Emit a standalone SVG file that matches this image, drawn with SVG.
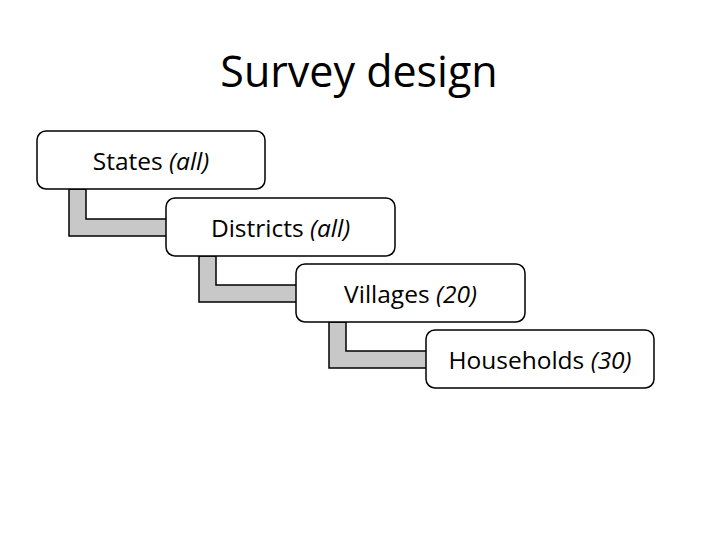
<svg xmlns="http://www.w3.org/2000/svg" width="720" height="540" viewBox="0 0 720 540">
<style>
.box{fill:#fff;stroke:#000;stroke-width:1.5}
.conn{fill:#c8c8c8;stroke:#000;stroke-width:1.5;stroke-linejoin:miter}
.lbl{font-family:"Open Sans","Liberation Sans",sans-serif;font-size:24.5px;fill:#000;text-anchor:middle}
.title{font-family:"Open Sans","Liberation Sans",sans-serif;font-size:43px;fill:#000;text-anchor:middle}
</style>
<rect width="720" height="540" fill="#fff"/>
<text class="title" x="359" y="87">Survey design</text>
<g id="connectors">
<path class="conn" d="M69,189 L86,189 L86,219 L167,219 L167,236 L69,236 Z"/>
<path class="conn" d="M199,256 L216,256 L216,285 L297,285 L297,302 L199,302 Z"/>
<path class="conn" d="M329,322 L346,322 L346,351 L427,351 L427,368 L329,368 Z"/>
</g>
<g id="states">
<rect class="box" x="37" y="131" width="228" height="58" rx="9"/>
<text class="lbl" x="151" y="170">States <tspan font-style="italic">(all)</tspan></text>
</g>
<g id="districts">
<rect class="box" x="166" y="198" width="229" height="58" rx="9"/>
<text class="lbl" x="280.5" y="237">Districts <tspan font-style="italic">(all)</tspan></text>
</g>
<g id="villages">
<rect class="box" x="296" y="264" width="229" height="58" rx="9"/>
<text class="lbl" x="410.5" y="303">Villages <tspan font-style="italic">(20)</tspan></text>
</g>
<g id="households">
<rect class="box" x="426" y="330" width="228" height="58" rx="9"/>
<text class="lbl" x="540" y="369">Households <tspan font-style="italic">(30)</tspan></text>
</g>
</svg>
